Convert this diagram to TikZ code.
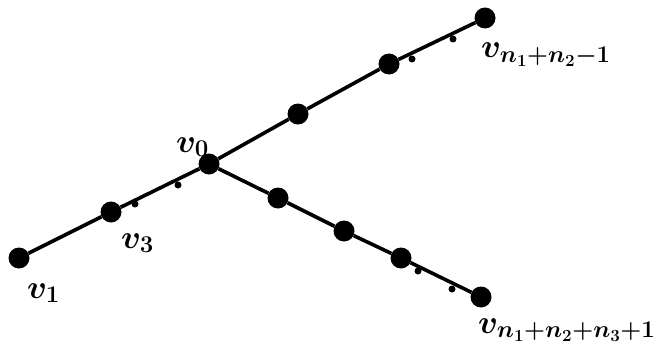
\documentclass[tikz,border=0pt]{standalone}
\usepackage{fix-cm}
\DeclareMathSizes{33}{33}{24}{17}
\begin{document}
\begin{tikzpicture}[x=1pt,y=-1pt,
  big/.style={circle,fill=black,inner sep=0pt,minimum size=21pt},
  tiny/.style={circle,fill=black,inner sep=0pt,minimum size=7pt},
  edge/.style={line width=3.6pt},
  lab/.style={inner sep=0pt,anchor=base west,font=\fontsize{33}{40}\selectfont\boldmath}]
\useasboundingbox (0,0) rectangle (655,353);
\node[big] (v1) at (19,258) {};
\node[big] (v3) at (111,212) {};
\node[big] (v0) at (209,164) {};
\node[big] (u1) at (298,114) {};
\node[big] (u2) at (389,64) {};
\node[big] (u3) at (485,18) {};
\node[big] (w1) at (278,198) {};
\node[big] (w2) at (344,231) {};
\node[big] (w3) at (401,258) {};
\node[big] (w4) at (481,297) {};
\draw[edge] (v1) -- (v3) -- (v0) -- (u1) -- (u2) -- (u3);
\draw[edge] (v0) -- (w1) -- (w2) -- (w3) -- (w4);
\node[tiny] (d1) at (135,204) {};
\node[tiny] (d2) at (178,185) {};
\node[tiny] (d3) at (412,59) {};
\node[tiny] (d4) at (453,39) {};
\node[tiny] (d5) at (418,271) {};
\node[tiny] (d6) at (452,289) {};
\node[lab] (l1) at (27,298) {$v_1$};
\node[lab] (l3) at (121,248) {$v_3$};
\node[lab] (l0) at (176,152) {$v_0$};
\node[lab] (lu) at (481,58) {$v_{n_1+n_2-1}$};
\node[lab] (lw) at (478,333) {$v_{n_1+n_2+n_3+1}$};
\end{tikzpicture}
\end{document}
